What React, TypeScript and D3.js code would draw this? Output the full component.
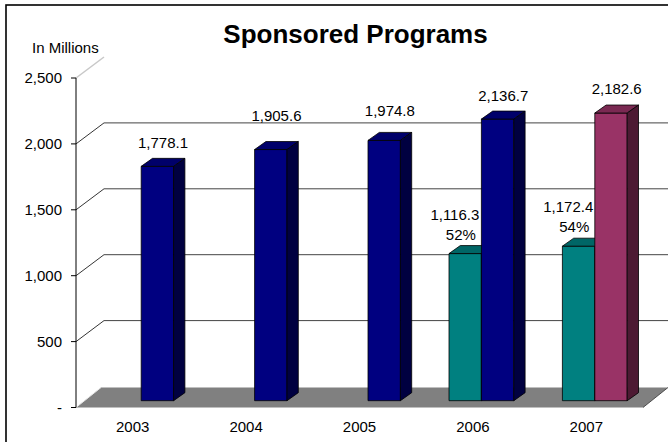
import React from 'react';
import * as d3 from 'd3';

// ---- data ----
const years = ['2003', '2004', '2005', '2006', '2007'];
const totals = [1778.1, 1905.6, 1974.8, 2136.7, 2182.6];
const portion: (number | null)[] = [null, null, null, 1116.3, 1172.4];
const portionPct: (string | null)[] = [null, null, null, '52%', '54%'];
const yTicks = [0, 500, 1000, 1500, 2000, 2500];
const highlightYear = '2007';

// ---- label nudges (layout only) ----
const totalLabelNudge = [0, -10, -6, 1, 0];

const W = 668;
const H = 442;
const FONT = 'Liberation Sans, Arial, sans-serif';

const AX_X = 76;
const PLOT_RIGHT = 643;
const WALL_D = { dx: 28, dy: -21 };
const FLOOR_D = { dx: 25, dy: -20 };
const BAR_OFF = { dx: 8.5, dy: -6.8 };
const BAR_D = { dx: 11.3, dy: -8 };

const colors = {
  blue: { front: '#000080', top: '#00006a', side: '#000040' },
  teal: { front: '#008080', top: '#006666', side: '#004040' },
  maroon: { front: '#993366', top: '#7a2952', side: '#4d1a33' },
};

export default function App() {
  const y = d3.scaleLinear().domain([0, 2500]).range([407.5, 78]);
  const x0 = d3.scaleBand().domain(years).range([AX_X, PLOT_RIGHT]).paddingInner(0).paddingOuter(0);
  const band = x0.bandwidth();
  const barW = band / 3.5;
  const fmt = d3.format(',.1f');
  const tickFmt = (v: number) => (v === 0 ? '-' : d3.format(',')(v));

  const bar = (x: number, v: number, c: { front: string; top: string; side: string }, key: string) => {
    const yb = y(0) + BAR_OFF.dy;
    const yt = y(v) + BAR_OFF.dy;
    const xs = x;
    const pts = (arr: number[][]) => arr.map((p) => p.join(',')).join(' ');
    return (
      <g key={key} stroke="#000" strokeWidth={0.8} strokeLinejoin="round">
        <rect x={xs} y={yt} width={barW} height={yb - yt} fill={c.front} />
        <polygon
          fill={c.top}
          points={pts([
            [xs, yt],
            [xs + BAR_D.dx, yt + BAR_D.dy],
            [xs + barW + BAR_D.dx, yt + BAR_D.dy],
            [xs + barW, yt],
          ])}
        />
        <polygon
          fill={c.side}
          points={pts([
            [xs + barW, yt],
            [xs + barW + BAR_D.dx, yt + BAR_D.dy],
            [xs + barW + BAR_D.dx, yb + BAR_D.dy],
            [xs + barW, yb],
          ])}
        />
      </g>
    );
  };

  const slotX = (yr: string, slot: number) => (x0(yr) as number) + BAR_OFF.dx + 0.75 * barW + slot * barW;

  return (
    <svg width={W} height={H} style={{ position: 'absolute', left: 0, top: 0, display: 'block', background: '#fff' }} fontFamily={FONT}>
      <rect x={0} y={0} width={W} height={H} fill="#fff" />
      {/* outer frame */}
      <rect x={6} y={5} width={W + 20} height={H + 20} fill="none" stroke="#000" strokeWidth={1.6} />

      {/* title */}
      <text x={355.5} y={42.5} textAnchor="middle" fontSize={26} fontWeight="bold" fill="#000">
        Sponsored Programs
      </text>
      <text x={32} y={52.5} fontSize={15} fill="#000">
        In Millions
      </text>

      {/* floor */}
      <polygon
        fill="#808080"
        points={[
          [AX_X, y(0)],
          [AX_X + FLOOR_D.dx, y(0) + FLOOR_D.dy],
          [PLOT_RIGHT + FLOOR_D.dx, y(0) + FLOOR_D.dy],
          [PLOT_RIGHT, y(0)],
        ]
          .map((p) => p.join(','))
          .join(' ')}
      />
      <line x1={AX_X} y1={y(0)} x2={AX_X + FLOOR_D.dx} y2={y(0) + FLOOR_D.dy} stroke="#e6e6e6" strokeWidth={1} />
      <line x1={PLOT_RIGHT} y1={y(0)} x2={PLOT_RIGHT + FLOOR_D.dx} y2={y(0) + FLOOR_D.dy} stroke="#333" strokeWidth={0.8} />

      {/* gridlines */}
      {yTicks.map((t) => {
        if (t === 0) return null;
        const yy = y(t);
        const top = t === 2500;
        return (
          <g key={'g' + t}>
            <line
              x1={AX_X}
              y1={yy}
              x2={AX_X + WALL_D.dx}
              y2={yy + WALL_D.dy}
              stroke={top ? '#c8c8c8' : '#000'}
              strokeWidth={top ? 1.5 : 0.8}
            />
            {!top && (
              <line x1={AX_X + WALL_D.dx} y1={yy + WALL_D.dy} x2={W + 10} y2={yy + WALL_D.dy} stroke="#444" strokeWidth={1} />
            )}
          </g>
        );
      })}

      {/* axis */}
      <line x1={AX_X} y1={y(2500)} x2={AX_X} y2={y(0)} stroke="#000" strokeWidth={1} />
      {yTicks.map((t) => (
        <g key={'t' + t}>
          <line x1={AX_X - 5} x2={AX_X} y1={y(t)} y2={y(t)} stroke="#000" strokeWidth={1} />
          <text x={62} y={y(t) + 5.3} textAnchor="end" fontSize={15} fill="#000">
            {tickFmt(t)}
          </text>
        </g>
      ))}

      {/* bars */}
      {years.map((yr, i) => {
        const items = [];
        const p = portion[i];
        if (p != null) items.push(bar(slotX(yr, 0), p, colors.teal, 'p' + i));
        const c = yr === highlightYear ? colors.maroon : colors.blue;
        items.push(bar(slotX(yr, 1), totals[i], c, 'b' + i));
        return <g key={yr}>{items}</g>;
      })}

      {/* value labels */}
      {years.map((yr, i) => {
        const cx = slotX(yr, 1) + barW / 2 + BAR_D.dx / 2;
        const yt = y(totals[i]) + BAR_OFF.dy + BAR_D.dy;
        return (
          <text key={'l' + i} x={cx} y={yt - 16 + 5.3 + totalLabelNudge[i]} textAnchor="middle" fontSize={15} fill="#000">
            {fmt(totals[i])}
          </text>
        );
      })}
      {years.map((yr, i) => {
        const p = portion[i];
        if (p == null) return null;
        const cx = slotX(yr, 0) + barW / 2 + BAR_D.dx / 2;
        const yt = y(p) + BAR_OFF.dy + BAR_D.dy;
        return (
          <g key={'pl' + i}>
            <text x={cx - 16} y={yt - 31 + 5.3} textAnchor="middle" fontSize={15} fill="#000">
              {fmt(p)}
            </text>
            <text x={cx - 10} y={yt - 11 + 5.3} textAnchor="middle" fontSize={15} fill="#000">
              {portionPct[i]}
            </text>
          </g>
        );
      })}

      {/* category labels */}
      {years.map((yr) => (
        <text key={'c' + yr} x={(x0(yr) as number) + band / 2} y={432} textAnchor="middle" fontSize={15} fill="#000">
          {yr}
        </text>
      ))}
    </svg>
  );
}
